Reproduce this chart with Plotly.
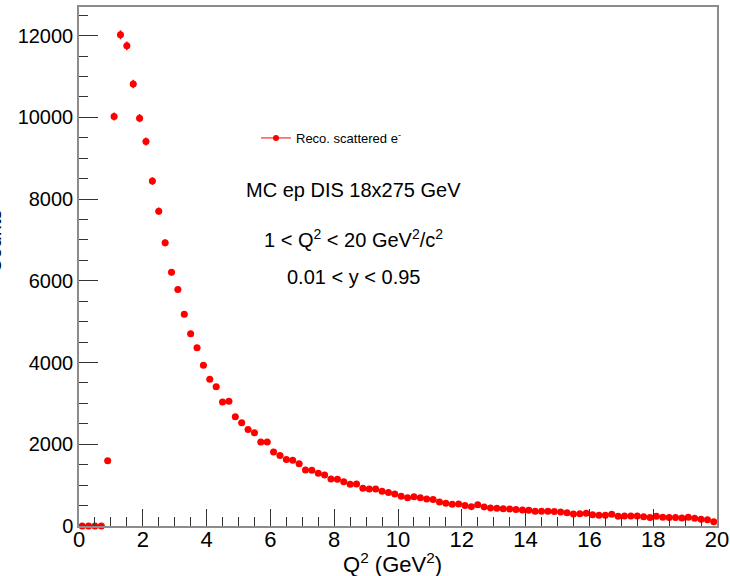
import plotly.graph_objects as go
import math

# Histogram bin centres (Q^2, GeV^2), 100 bins of width 0.2 from 0 to 20
q2_centers = [round(0.1 + 0.2 * i, 1) for i in range(100)]
bin_half_width = 0.1

counts = [
    0, 0, 0, 0, 1595, 10020, 12020, 11750, 10815, 9980,
    9410, 8440, 7705, 6930, 6210, 5785, 5180, 4705, 4360, 3935,
    3590, 3405, 3035, 3050, 2675, 2525, 2360, 2280, 2055, 2055,
    1810, 1726, 1630, 1610, 1525, 1370, 1366, 1290, 1250, 1153,
    1145, 1080, 1022, 1025, 924, 905, 905, 851, 818, 780,
    728, 690, 715, 690, 663, 646, 589, 556, 532, 536,
    499, 474, 523, 466, 442, 433, 425, 417, 401, 392,
    384, 360, 360, 360, 352, 344, 327, 294, 302, 311,
    278, 262, 262, 286, 237, 245, 245, 245, 229, 205,
    237, 213, 205, 205, 196, 213, 188, 164, 155, 106,
]
count_errors = [math.sqrt(c) for c in counts]

legend_label = "Reco. scattered e<sup>-</sup>"
info_lines = [
    "MC ep DIS 18x275 GeV",
    "1 &lt; Q<sup>2</sup> &lt; 20 GeV<sup>2</sup>/c<sup>2</sup>",
    "0.01 &lt; y &lt; 0.95",
]
x_title = "Q<sup>2</sup> (GeV<sup>2</sup>)"
y_title = "Counts"

FONT = "Liberation Sans, Arial, Helvetica, sans-serif"
RED = "#ff0000"

fig = go.Figure()
fig.add_trace(go.Scatter(
    x=q2_centers, y=counts, mode="markers",
    marker=dict(color=RED, size=7, symbol="circle"),
    error_x=dict(type="constant", value=bin_half_width, color=RED, thickness=1.5, width=0),
    error_y=dict(type="data", array=count_errors, color=RED, thickness=1.5, width=0),
    cliponaxis=False, showlegend=False,
))
# legend entry (line + marker style like ROOT "lep")
fig.add_trace(go.Scatter(
    x=[None], y=[None], mode="lines+markers", name=legend_label,
    line=dict(color=RED, width=1), marker=dict(color=RED, size=6),
))

L, R, T, B = 79, 13, 7, 50
W, H = 730, 576
pw = W - L - R
ph = H - T - B

def px_x(p):
    return (p - L) / pw

def px_y(p):
    return (H - B - p) / ph

for txt, ypix in zip(info_lines, [190, 238, 277]):
    fig.add_annotation(
        text=txt, xref="paper", yref="paper", x=px_x(353), y=px_y(ypix),
        xanchor="center", yanchor="middle", showarrow=False,
        font=dict(family=FONT, size=20, color="black"),
    )

# axis titles as annotations (y title partly off-canvas as in the reference)
fig.add_annotation(
    text=y_title, xref="paper", yref="paper", x=px_x(-6), y=px_y(242),
    xanchor="center", yanchor="middle", showarrow=False, textangle=-90,
    font=dict(family=FONT, size=20, color="black"),
)
fig.add_annotation(
    text=x_title, xref="paper", yref="paper", x=px_x(392), y=px_y(563),
    xanchor="center", yanchor="middle", showarrow=False,
    font=dict(family=FONT, size=22, color="black"),
)

axis_common = dict(
    showgrid=False, zeroline=False, showline=True, linecolor="#8c8c8c",
    linewidth=1.5, mirror=True, ticks="inside", tickcolor="#333333",
    tickwidth=1, automargin=False, ticklabeloverflow="allow",
)

fig.update_xaxes(
    range=[0, 20], dtick=2, ticklen=17, ticklabelstandoff=-7,
    tickfont=dict(family=FONT, size=22, color="black"),
    minor=dict(dtick=0.5, ticks="inside", ticklen=9, tickcolor="#333333", tickwidth=1),
    **axis_common,
)
fig.update_yaxes(
    range=[0, 12700], dtick=2000, ticklen=19, tickformat="d",
    tickfont=dict(family=FONT, size=20, color="black"),
    minor=dict(dtick=500, ticks="inside", ticklen=9, tickcolor="#333333", tickwidth=1),
    **axis_common,
)

fig.update_layout(
    width=W, height=H,
    margin=dict(l=L, r=R, t=T, b=B),
    paper_bgcolor="white", plot_bgcolor="white",
    font=dict(family=FONT, color="black"),
    legend=dict(
        x=px_x(256), y=px_y(138), xanchor="left", yanchor="middle",
        bgcolor="rgba(0,0,0,0)", borderwidth=0,
        font=dict(family=FONT, size=13, color="black"),
    ),
)

fig.write_html("out.html")
